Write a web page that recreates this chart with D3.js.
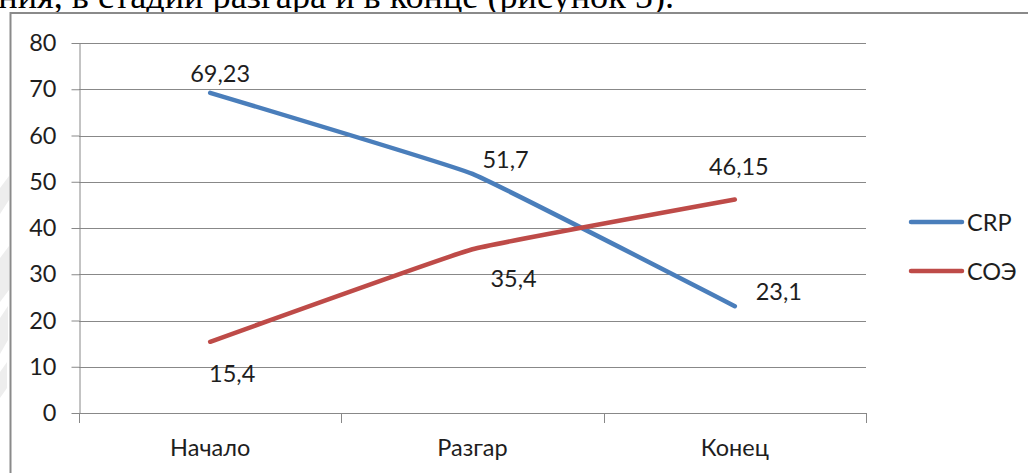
<!DOCTYPE html>
<html>
<head>
<meta charset="utf-8">
<script src="https://cdn.jsdelivr.net/npm/d3@7/dist/d3.min.js"></script>
<style>
  html, body { margin: 0; padding: 0; background: #fff; overflow: hidden; }
  svg { display: block; }
</style>
</head>
<body>
<svg id="chart" width="1028" height="473"></svg>
<script>
// Chart data
const categories = ["Начало", "Разгар", "Конец"];
const crpValues = [69.23, 51.7, 23.1];
const esrValues = [15.4, 35.4, 46.15];
const seriesNames = ["CRP", "СОЭ"];
const yTicks = [0, 10, 20, 30, 40, 50, 60, 70, 80];
const captionText = "ния, в стадии разгара и в конце (рисунок 5).";

// Layout
const W = 1028, H = 473;
const plot = { left: 79, right: 866, top: 43, bottom: 413 };
const colors = ["#4a7ebb", "#be4b48"];
const textColor = "#1e1e1e";
const gridColor = "#888888";
const chartFont = "Lato, 'Open Sans', 'Noto Sans', sans-serif";
// Hand-placed data label offsets (dx, dy from the point to the label centre)
const labelOffsets = [
  [[10, -20], [33, -15], [44, -15]],
  [[22, 31], [41, 29], [4, -34]]
];

const svg = d3.select("#chart");

// Caption line of the surrounding document (partly hidden behind the chart)
const caption = svg.append("text")
  .attr("font-family", "'Liberation Serif', 'Times New Roman', serif")
  .attr("font-size", 100)
  .attr("fill", "#000")
  .text(captionText);
const natural = caption.node().getComputedTextLength();
const capSize = 100 * 676 / natural;
caption.attr("font-size", capSize)
  .attr("text-anchor", "end")
  .attr("x", 674)
  .attr("y", 8);

// Chart frame
svg.append("rect")
  .attr("x", 10.5).attr("y", 13)
  .attr("width", 1200).attr("height", 600)
  .attr("fill", "#fff")
  .attr("stroke", "#8a8a8a")
  .attr("stroke-width", 2);

// Faint background marks on the page edge
const marks = svg.append("g").attr("fill", "#ededed");
[[0, 188, 9, 176, 9, 200, 0, 214], [0, 258, 9, 246, 9, 290, 0, 302],
 [0, 318, 8, 306, 8, 340, 0, 354], [0, 372, 7, 362, 7, 388, 0, 398]]
  .forEach(p => marks.append("polygon").attr("points", p.join(",")));

const x = d3.scaleBand().domain(categories).range([plot.left, plot.right]).padding(0);
const y = d3.scaleLinear().domain([0, 80]).range([plot.bottom, plot.top]);
const cx = c => x(c) + x.bandwidth() / 2;

// Horizontal gridlines
svg.append("g")
  .selectAll("line")
  .data(yTicks.filter(t => t > 0))
  .join("line")
  .attr("x1", plot.left).attr("x2", plot.right)
  .attr("y1", d => Math.round(y(d)) + 0.5).attr("y2", d => Math.round(y(d)) + 0.5)
  .attr("stroke", gridColor).attr("stroke-width", 1);

// Y axis
const yAxis = svg.append("g")
  .attr("transform", `translate(${plot.left + 0.5},0)`)
  .call(d3.axisLeft(y).tickValues(yTicks).tickSize(8).tickSizeOuter(0).tickPadding(15)
    .tickFormat(d3.format("d")));
yAxis.select(".domain").attr("stroke", gridColor);
yAxis.selectAll(".tick line").attr("stroke", gridColor);
yAxis.selectAll(".tick text")
  .attr("font-family", chartFont).attr("font-size", 23.5).attr("fill", textColor);

// X axis line, category boundary ticks and labels
const xg = svg.append("g");
xg.append("line")
  .attr("x1", plot.left).attr("x2", plot.right)
  .attr("y1", plot.bottom + 0.5).attr("y2", plot.bottom + 0.5)
  .attr("stroke", gridColor);
const bounds = categories.map(c => x(c)).concat([x(categories[categories.length - 1]) + x.bandwidth()]);
xg.selectAll("line.b")
  .data(bounds)
  .join("line").attr("class", "b")
  .attr("x1", d => Math.round(d) + 0.5).attr("x2", d => Math.round(d) + 0.5)
  .attr("y1", plot.bottom).attr("y2", plot.bottom + 10)
  .attr("stroke", gridColor);
const xAxis = svg.append("g")
  .attr("transform", `translate(0,${plot.bottom})`)
  .call(d3.axisBottom(x).tickSize(0).tickPadding(26));
xAxis.select(".domain").remove();
xAxis.selectAll(".tick text")
  .attr("font-family", chartFont).attr("font-size", 23.5).attr("fill", textColor);

// Series lines (lightly smoothed)
const series = [crpValues, esrValues];
const line = d3.line()
  .x((d, i) => cx(categories[i]))
  .y(d => y(d))
  .curve(d3.curveCardinal.tension(0.75));

series.forEach((vals, s) => {
  svg.append("path")
    .datum(vals)
    .attr("d", line)
    .attr("fill", "none")
    .attr("stroke", colors[s])
    .attr("stroke-width", 4.5)
    .attr("stroke-linecap", "round")
    .attr("stroke-linejoin", "round");
});

// Data labels
series.forEach((vals, s) => {
  svg.append("g")
    .selectAll("text")
    .data(vals)
    .join("text")
    .attr("x", (d, i) => cx(categories[i]) + labelOffsets[s][i][0])
    .attr("y", (d, i) => y(d) + labelOffsets[s][i][1])
    .attr("text-anchor", "middle")
    .attr("dominant-baseline", "central")
    .attr("font-family", chartFont).attr("font-size", 23.5).attr("fill", textColor)
    .text(d => String(d).replace(".", ","));
});

// Legend
const legend = svg.append("g");
seriesNames.forEach((name, s) => {
  const ly = 222 + s * 49;
  legend.append("line")
    .attr("x1", 911).attr("x2", 962)
    .attr("y1", ly).attr("y2", ly)
    .attr("stroke", colors[s]).attr("stroke-width", 4.5)
    .attr("stroke-linecap", "round");
  legend.append("text")
    .attr("x", 967).attr("y", ly)
    .attr("dominant-baseline", "central")
    .attr("font-family", chartFont).attr("font-size", 23.5).attr("fill", textColor)
    .text(name);
});
</script>
</body>
</html>
